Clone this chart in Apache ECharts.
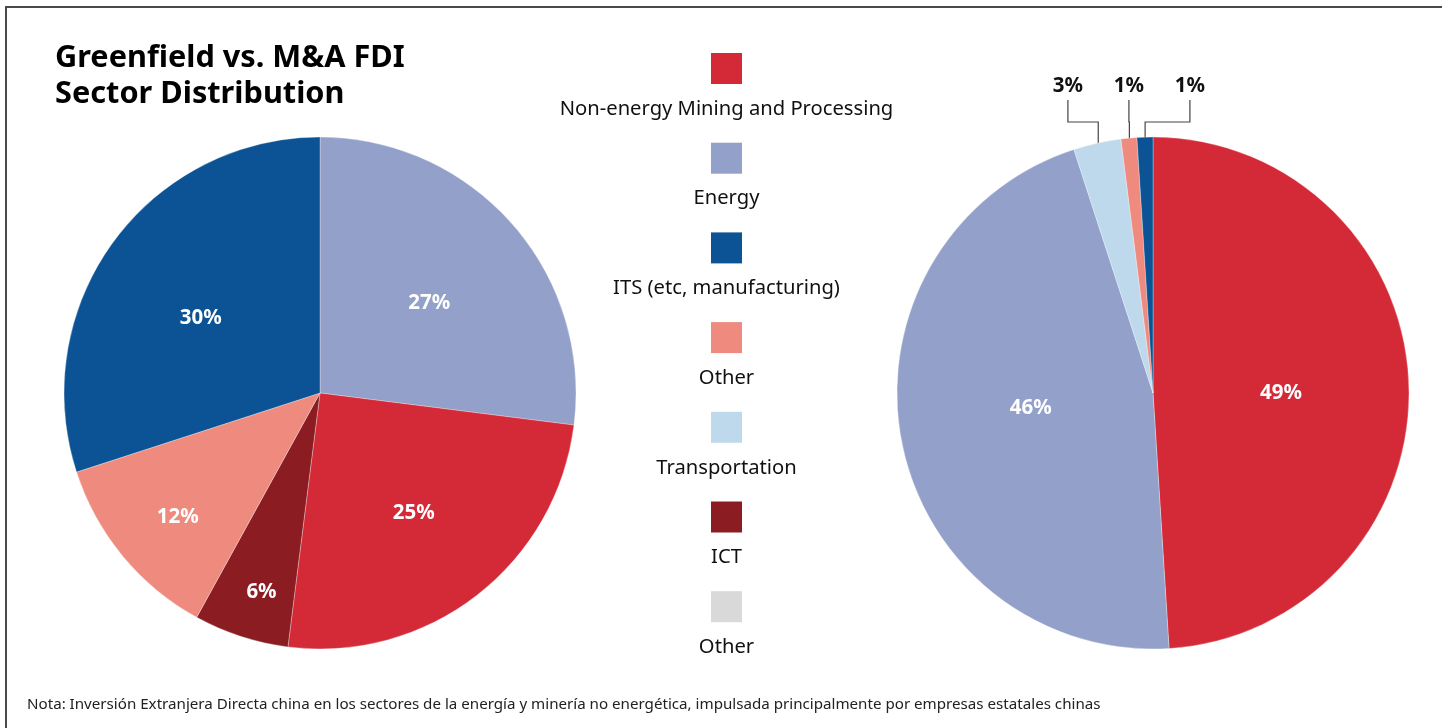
<!DOCTYPE html>
<html>
<head>
<meta charset="utf-8">
<script src="https://cdn.jsdelivr.net/npm/echarts@6/dist/echarts.min.js"></script>
<style>
html,body{margin:0;padding:0;background:#fff;}
#chart{width:1442px;height:728px;}
</style>
</head>
<body>
<div id="chart"></div>
<script>
// ---- Data ----
const legendNames = ['Non-energy Mining and Processing', 'Energy', 'ITS (etc, manufacturing)', 'Other', 'Transportation', 'ICT', 'Other'];
const legendColors = ['#d42a38', '#93a0c9', '#0b5394', '#ef8a7f', '#bed9ec', '#8b1d22', '#d9d9d9'];

const greenfieldNames = ['Energy', 'Non-energy Mining and Processing', 'ICT', 'Other', 'ITS (etc, manufacturing)'];
const greenfieldValues = [27, 25, 6, 12, 30];
const greenfieldColors = ['#93a0c9', '#d42a38', '#8b1d22', '#ef8a7f', '#0b5394'];

const mnaNames = ['Non-energy Mining and Processing', 'Energy', 'Transportation', 'Other', 'ITS (etc, manufacturing)'];
const mnaValues = [49, 46, 3, 1, 1];
const mnaColors = ['#d42a38', '#93a0c9', '#bed9ec', '#ef8a7f', '#0b5394'];

const titleText = 'Greenfield vs. M&A FDI\nSector Distribution';
const noteText = 'Nota: Inversión Extranjera Directa china en los sectores de la energía y minería no energética, impulsada principalmente por empresas estatales chinas';

// ---- Layout constants ----
const FONT = "'Noto Sans', 'Open Sans', sans-serif";
const R = 256;
const leftCenter = [320, 393];
const rightCenter = [1153, 393];
const leftLabelFrac = [0.56, 0.585, 0.80, 0.73, 0.555];
const leftLabelTurn = [1, -1, -1.4, -0.8, -3];
const rightLabelFrac = [0.50, 0.48, 0, 0, 0];
const rightLabelTurn = [0.5, 5, 0, 0, 0];
const glyphShift = 3;
const outsideMin = 5; // values below this get outside labels

function midAngle(values, i) {
  const total = values.reduce((a, b) => a + b, 0);
  let cum = 0;
  for (let k = 0; k < i; k++) cum += values[k];
  return ((cum + values[i] / 2) / total) * Math.PI * 2;
}

function insideLayout(values, center, fracs, turns) {
  return function (params) {
    const i = params.dataIndex;
    if (values[i] < outsideMin) return null;
    const a = midAngle(values, i) + turns[i] * Math.PI / 180;
    const r = R * fracs[i];
    return {
      x: center[0] + r * Math.sin(a),
      y: center[1] - r * Math.cos(a) + glyphShift,
      align: 'center',
      verticalAlign: 'middle'
    };
  };
}

function rightLayout(params) {
  const i = params.dataIndex;
  if (mnaValues[i] >= outsideMin) {
    return insideLayout(mnaValues, rightCenter, rightLabelFrac, rightLabelTurn)(params);
  }
  const outs = [];
  mnaValues.forEach((v, k) => { if (v < outsideMin) outs.push(k); });
  const pos = outs.indexOf(i);
  const midIdx = outs[Math.floor(outs.length / 2)];
  const am = midAngle(mnaValues, midIdx);
  const midX = rightCenter[0] + R * Math.sin(am);
  const spacing = 61;
  const lx = midX + (pos - (outs.length - 1) / 2) * spacing;
  const ly = rightCenter[1] - R - 52;
  const a = midAngle(mnaValues, i);
  const ax = rightCenter[0] + (R - 5) * Math.sin(a);
  const ay = rightCenter[1] - (R - 5) * Math.cos(a);
  const elbowY = rightCenter[1] - R - 15;
  return {
    x: lx,
    y: ly + 1,
    align: 'center',
    verticalAlign: 'middle',
    labelLinePoints: [[ax, ay], [ax, elbowY], [lx, elbowY], [lx, ly + 15]]
  };
}

const chart = echarts.init(document.getElementById('chart'), null, { renderer: 'canvas' });

const legendGraphics = legendNames.map((name, i) => {
  const top = 53 + i * 89.7;
  return {
    type: 'group',
    children: [
      { type: 'rect', shape: { x: 711, y: top, width: 31, height: 31 }, style: { fill: legendColors[i] } },
      { type: 'text', x: 726.5, y: top + 56, style: { text: name, fill: '#111', font: '20.2px ' + FONT, textAlign: 'center', textVerticalAlign: 'middle' } }
    ]
  };
});

const option = {
  animation: false,
  backgroundColor: '#ffffff',
  title: {
    text: titleText,
    left: 50,
    top: 35,
    textStyle: { fontFamily: FONT, fontSize: 30.7, fontWeight: 'bold', color: '#000', lineHeight: 36 }
  },
  graphic: [
    { type: 'rect', shape: { x: 6, y: 7, width: 1600, height: 900 }, style: { fill: 'none', stroke: '#4a4a4a', lineWidth: 2 }, silent: true },
    { type: 'text', x: 27, y: 705, style: { text: noteText, fill: '#222', font: '15.15px ' + FONT, textVerticalAlign: 'middle' } }
  ].concat(legendGraphics),
  series: [
    {
      type: 'pie',
      center: leftCenter,
      radius: R,
      startAngle: 90,
      clockwise: true,
      avoidLabelOverlap: false,
      emphasis: { disabled: true },
      itemStyle: { borderColor: 'rgba(255,255,255,0.6)', borderWidth: 0.5 },
      label: {
        show: true,
        position: 'inside',
        formatter: '{c}%',
        color: '#fff',
        fontFamily: FONT,
        fontWeight: 'bold',
        fontSize: 20.5
      },
      labelLine: { show: false },
      labelLayout: insideLayout(greenfieldValues, leftCenter, leftLabelFrac, leftLabelTurn),
      data: greenfieldNames.map((n, i) => ({ name: n, value: greenfieldValues[i], itemStyle: { color: greenfieldColors[i] } }))
    },
    {
      type: 'pie',
      center: rightCenter,
      radius: R,
      startAngle: 90,
      clockwise: true,
      avoidLabelOverlap: false,
      emphasis: { disabled: true },
      itemStyle: { borderColor: 'rgba(255,255,255,0.6)', borderWidth: 0.5 },
      label: {
        show: true,
        position: 'inside',
        formatter: '{c}%',
        color: '#fff',
        fontFamily: FONT,
        fontWeight: 'bold',
        fontSize: 20.5
      },
      labelLine: { show: false },
      labelLayout: rightLayout,
      data: mnaNames.map((n, i) => {
        const d = { name: n, value: mnaValues[i], itemStyle: { color: mnaColors[i] } };
        if (mnaValues[i] < outsideMin) {
          d.label = { position: 'outside', color: '#111', fontSize: 20.5 };
          d.labelLine = { show: true, length: 10, length2: 10, lineStyle: { color: '#444', width: 1.2 } };
        }
        return d;
      })
    }
  ]
};

chart.setOption(option);
</script>
</body>
</html>
